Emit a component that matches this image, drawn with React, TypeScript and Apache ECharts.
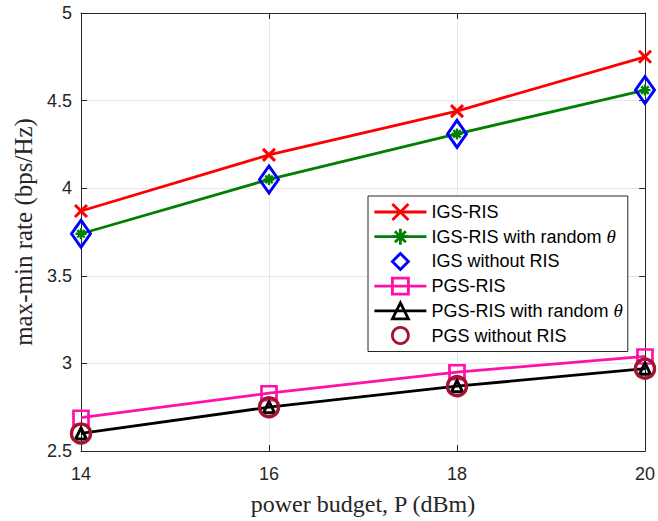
import React, { useEffect, useRef } from "react";
import * as echarts from "echarts";

// Transmit power budget (dBm)
const power = [14, 16, 18, 20];

// Max-min rate (bps/Hz) for each scheme
const igsRis = [3.87, 4.19, 4.44, 4.75];
const igsRisRandom = [3.74, 4.05, 4.31, 4.56];
const igsNoRis = [3.74, 4.05, 4.31, 4.56];
const pgsRis = [2.69, 2.83, 2.95, 3.04];
const pgsRisRandom = [2.6, 2.75, 2.87, 2.97];
const pgsNoRis = [2.6, 2.75, 2.87, 2.97];

const xRange = { min: 14, max: 20, interval: 2 };
const yRange = { min: 2.5, max: 5, interval: 0.5 };

const SANS = "'Liberation Sans', Arial, Helvetica, sans-serif";
const SERIF = "'Liberation Serif', 'Times New Roman', serif";
const INK = "#262626";

const CROSS = "path://M0,0L10,10M10,0L0,10";
const ASTERISK = "path://M5,0L5,10M0,5L10,5M1.6,1.6L8.4,8.4M8.4,1.6L1.6,8.4";
const NONE = "rgba(0,0,0,0)";

const pairs = (ys: number[]) => power.map((x, i) => [x, ys[i]]);

function lineSeries(
  name: string,
  ys: number[],
  color: string,
  symbol: string,
  symbolSize: number | number[],
  borderWidth: number,
  showLine: boolean
) {
  return {
    name,
    type: "line",
    data: pairs(ys),
    symbol,
    symbolSize,
    showSymbol: true,
    lineStyle: showLine
      ? { color, width: 2.8 }
      : { color, width: 0, opacity: 0 },
    itemStyle: { color: NONE, borderColor: color, borderWidth },
    emphasis: { disabled: true },
  };
}

export default function App() {
  const ref = useRef<HTMLDivElement>(null);

  useEffect(() => {
    if (!ref.current) return;
    const chart = echarts.init(ref.current, null, { renderer: "svg" });

    const axisCommon = {
      type: "value",
      axisLine: { show: true, lineStyle: { color: INK, width: 1 } },
      axisTick: { show: true, inside: true, length: 6, lineStyle: { color: INK } },
    };

    chart.setOption({
      animation: false,
      backgroundColor: "#ffffff",
      grid: { left: 81, right: 13, top: 13, bottom: 68, containLabel: false },
      xAxis: [
        {
          ...axisCommon,
          ...xRange,
          position: "bottom",
          name: "power budget, P (dBm)",
          nameLocation: "middle",
          nameGap: 41,
          nameTextStyle: { fontFamily: SERIF, fontSize: 24, color: INK },
          axisLabel: { fontFamily: SANS, fontSize: 18, color: INK, margin: 14 },
          splitLine: { show: true, lineStyle: { color: "#e6e6e6", width: 1 } },
        },
        {
          ...axisCommon,
          ...xRange,
          position: "top",
          axisLabel: { show: false },
          splitLine: { show: false },
        },
      ],
      yAxis: [
        {
          ...axisCommon,
          ...yRange,
          position: "left",
          name: "max-min rate (bps/Hz)",
          nameLocation: "middle",
          nameGap: 42,
          nameTextStyle: { fontFamily: SERIF, fontSize: 25, color: INK },
          axisLabel: { fontFamily: SANS, fontSize: 18, color: INK, margin: 9 },
          splitLine: { show: true, lineStyle: { color: "#e6e6e6", width: 1 } },
        },
        {
          ...axisCommon,
          ...yRange,
          position: "right",
          axisLabel: { show: false },
          splitLine: { show: false },
        },
      ],
      legend: {
        left: 368,
        top: 196,
        orient: "vertical",
        padding: [6, 5, 6, 5],
        itemWidth: 52,
        itemHeight: 20,
        itemGap: 4.7,
        backgroundColor: "#ffffff",
        borderColor: INK,
        borderWidth: 1,
        borderRadius: 0,
        lineStyle: { width: 2.8 },
        itemStyle: { borderWidth: 2.8 },
        textStyle: {
          fontFamily: SANS,
          fontSize: 18,
          color: "#000000",
          lineHeight: 20,
          rich: {
            a: { fontFamily: SANS, fontSize: 18, color: "#000000" },
            t: { fontFamily: SERIF, fontSize: 19, fontStyle: "italic", color: "#000000" },
          },
        },
        formatter: (name: string) =>
          name.endsWith("θ") ? `{a|${name.slice(0, -1)}}{t|θ}` : name,
        data: [
          "IGS-RIS",
          "IGS-RIS with random θ",
          "IGS without RIS",
          "PGS-RIS",
          "PGS-RIS with random θ",
          "PGS without RIS",
        ],
      },
      series: [
        lineSeries("IGS-RIS", igsRis, "#ff0000", CROSS, 12, 3, true),
        lineSeries("IGS-RIS with random θ", igsRisRandom, "#008000", ASTERISK, 11, 2.4, true),
        lineSeries("IGS without RIS", igsNoRis, "#0000ff", "diamond", [19, 27], 3, false),
        lineSeries("PGS-RIS", pgsRis, "#ff10a8", "rect", [15, 14], 2.6, true),
        lineSeries("PGS-RIS with random θ", pgsRisRandom, "#000000", "triangle", 11, 3, true),
        lineSeries("PGS without RIS", pgsNoRis, "#a2142f", "circle", 19, 3.4, false),
      ],
    });

    return () => chart.dispose();
  }, []);

  return (
    <div
      ref={ref}
      style={{ position: "fixed", left: 0, top: 0, width: 658, height: 521 }}
    />
  );
}
